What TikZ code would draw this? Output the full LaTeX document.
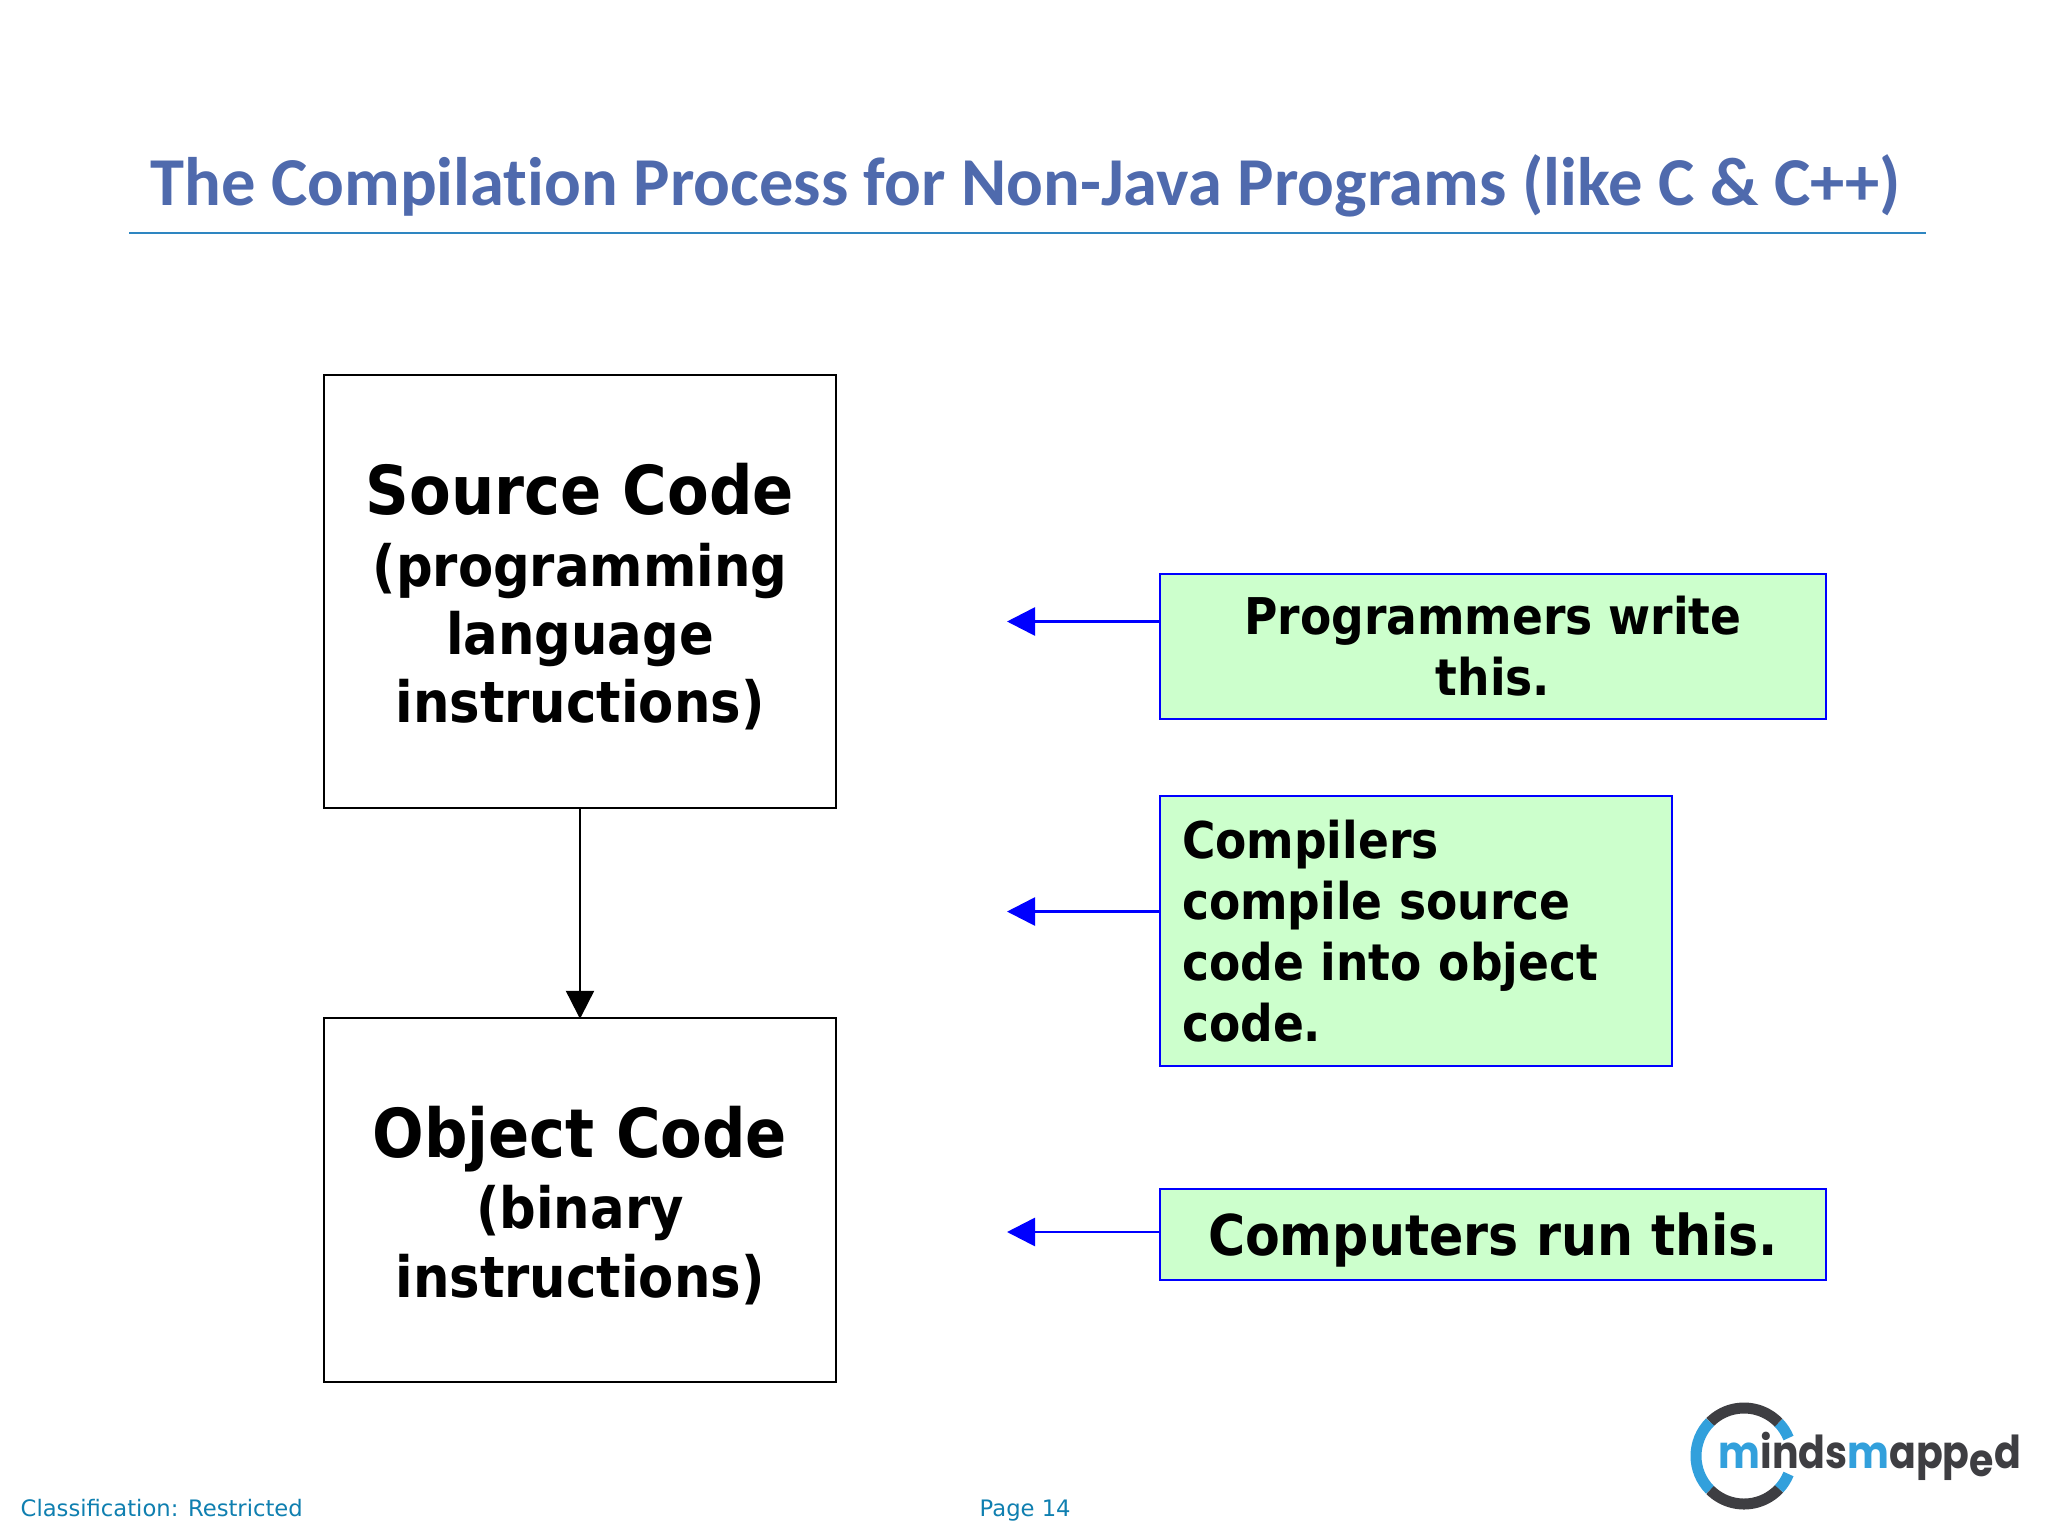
\documentclass[tikz,border=0pt]{standalone}
\usepackage{fontspec}
\usepackage{tikz}
\usepackage{xcolor}
\setmainfont{DejaVu Sans Condensed}
\newfontfamily\titlefont[Ligatures=NoCommon]{Carlito}
\newfontfamily\footfont{DejaVu Sans}
\newfontfamily\logofont[FakeStretch=0.87]{Poppins}
\definecolor{titleblue}{RGB}{79,106,173}
\definecolor{ruleblue}{RGB}{46,134,193}
\definecolor{footblue}{RGB}{15,127,176}
\definecolor{notegreen}{RGB}{204,255,204}
\definecolor{logoblue}{RGB}{50,160,220}
\definecolor{logodark}{RGB}{62,62,66}
\tikzset{
    codebox/.style={draw=black, line width=0.022cm, minimum width=5.12cm, align=center, font=\bfseries\fontsize{16.2}{19.4}\selectfont},
    notebox/.style={draw=blue, fill=notegreen, line width=0.025cm, align=center, font=\bfseries\fontsize{14.4}{17.3}\selectfont},
    notearrow/.style={draw=blue, line width=0.027cm, -{Triangle[length=0.28cm, width=0.28cm]}},
    footnote/.style={text=footblue, font=\footfont\fontsize{6.45}{8}\selectfont, anchor=base west, inner sep=0pt},
    logoring/.style={line width=0.11cm},
}
\usetikzlibrary{arrows.meta}
\newcommand{\bigline}[1]{{\fontsize{19.2}{21}\selectfont\rule{0pt}{17.6pt}#1}}
\begin{document}
\begin{tikzpicture}[x=0.01cm, y=-0.01cm]
    \useasboundingbox (0,0) rectangle (2048,1536);

    % title
    \node[text=titleblue, font=\titlefont\bfseries\fontsize{19.5}{23}\selectfont] (title) at (1025.6,186) {The Compilation Process for Non-Java Programs (like C \& C++)};
    \coordinate (ruleleft) at (129,233);
    \coordinate (ruleright) at (1926,233);
    \draw[ruleblue, line width=0.02cm] (ruleleft) -- (ruleright);

    % code boxes
    \node[codebox, minimum height=4.32cm] (source) at (580,591.5) {\bigline{Source Code}\\[1pt](programming\\language\\instructions)};
    \node[codebox, minimum height=3.64cm] (object) at (580,1200) {\bigline{Object Code}\\[1pt](binary\\instructions)};
    \draw[line width=0.022cm, shorten >=-0.02cm, -{Triangle[length=0.28cm, width=0.28cm]}] (source) -- (object);

    % notes
    \node[notebox, minimum width=6.66cm, minimum height=1.45cm] (programmers) at (1493,646.5) {Programmers write\\this.};
    \node[notebox, minimum width=5.12cm, minimum height=2.70cm, align=left, text width=4.675cm, inner sep=0pt] (compilers) at (1416,931) {Compilers\\compile source\\code into object\\code.};
    \node[notebox, minimum width=6.66cm, minimum height=0.91cm, font=\bfseries\fontsize{16}{20}\selectfont] (computers) at (1493,1234.5) {\rule{0pt}{15.5pt}Computers run this.};

    \coordinate (tipa) at (1007,621.5);
    \coordinate (tipb) at (1007,911.5);
    \coordinate (tipc) at (1007,1232);
    \draw[notearrow] (tipa -| programmers.west) -- (tipa);
    \draw[notearrow] (tipb -| compilers.west) -- (tipb);
    \draw[notearrow] (tipc -| computers.west) -- (tipc);

    % footer
    \node[footnote] (classification) at (20,1516) {Classification: Restricted};
    \node[footnote] (page) at (979,1516) {Page 14};

    % logo
    \coordinate (ringcentre) at (1744,1456);
    \draw[logoring, logoblue] (ringcentre) ++(22:48 and -48) arc[start angle=-22, end angle=-44, radius=48];
    \draw[logoring, logodark] (ringcentre) ++(44:48 and -48) arc[start angle=-44, end angle=-135, radius=48];
    \draw[logoring, logoblue] (ringcentre) ++(135:48 and -48) arc[start angle=-135, end angle=-225, radius=48];
    \draw[logoring, logodark] (ringcentre) ++(225:48 and -48) arc[start angle=-225, end angle=-317, radius=48];
    \draw[logoring, logoblue] (ringcentre) ++(317:48 and -48) arc[start angle=-317, end angle=-338, radius=48];
    \node[anchor=base west, inner sep=0pt, font=\logofont\bfseries\fontsize{12.9}{13}\selectfont, text=logodark] (logo) at (1718,1468) {\textcolor{logoblue}{m}ind\textcolor{logodark}{s}\textcolor{logoblue}{m}app\raisebox{-2.4pt}{e}d};
\end{tikzpicture}
\end{document}
